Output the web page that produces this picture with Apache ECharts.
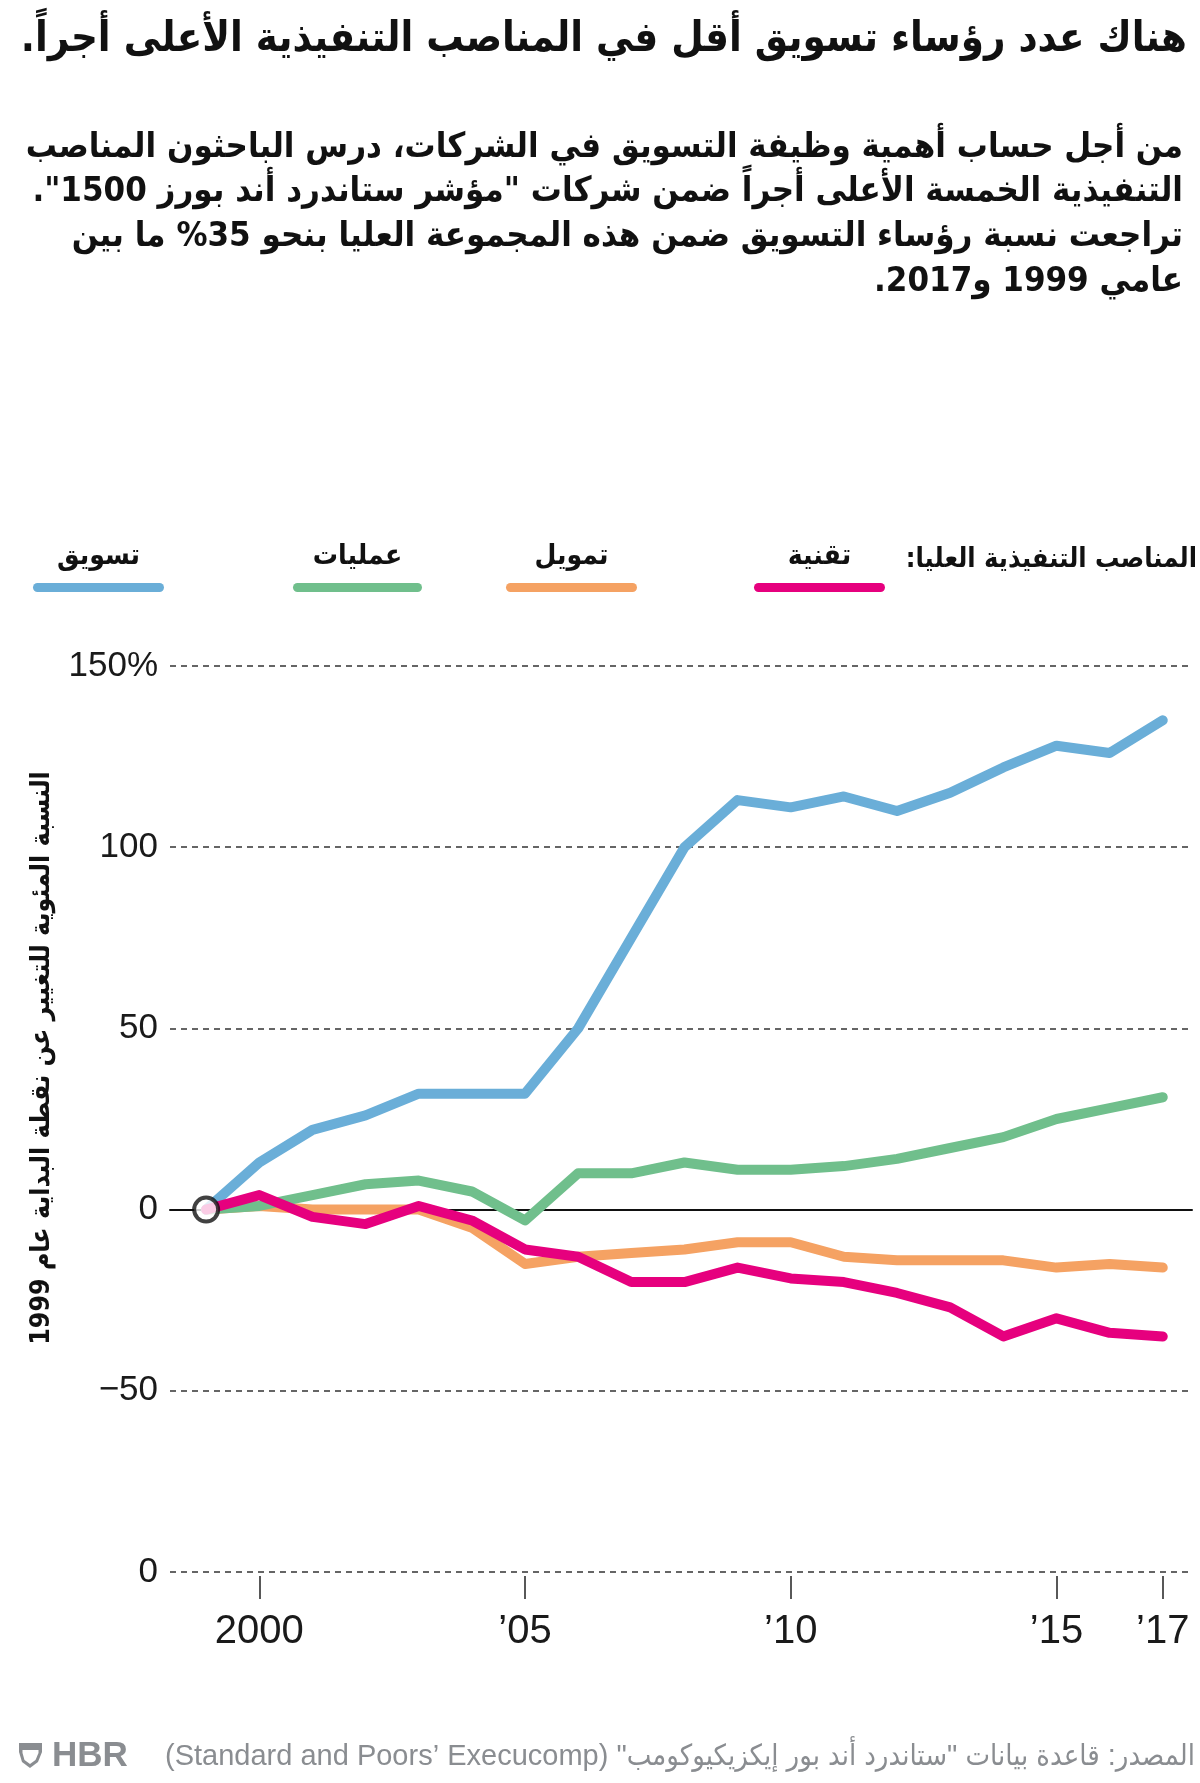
<!DOCTYPE html>
<html>
<head>
<meta charset="utf-8">
<script src="https://cdn.jsdelivr.net/npm/echarts@6/dist/echarts.min.js"></script>
<style>
html,body{margin:0;padding:0;background:#fff;}
#chart{width:1200px;height:1783px;}
</style>
</head>
<body>
<div id="chart"></div>
<script>
// ---- data ----
const years = [1999,2000,2001,2002,2003,2004,2005,2006,2007,2008,2009,2010,2011,2012,2013,2014,2015,2016,2017];
const marketing  = [0,13,22,26,32,32,32,50,75,100,113,111,114,110,115,122,128,126,135];
const operations = [0,1,4,7,8,5,-3,10,10,13,11,11,12,14,17,20,25,28,31];
const finance    = [0,1,0,0,0,-5,-15,-13,-12,-11,-9,-9,-13,-14,-14,-14,-16,-15,-16];
const technology = [0,4,-2,-4,1,-3,-11,-13,-20,-20,-16,-19,-20,-23,-27,-35,-30,-34,-35];

const seriesNames = ['تسويق','عمليات','تمويل','تقنية'];
const xTickValues = [2000,2005,2010,2015,2017];
const xTickLabels = ['2000','\u201905','\u201910','\u201915','\u201917'];
const yTickValues = [-100,-50,0,50,100,150];
const yTickLabels = ['0','\u221250','0','50','100','150%'];

const titleText = 'هناك عدد رؤساء تسويق أقل في المناصب التنفيذية الأعلى أجراً.';
const subtitleLines = [
  'من أجل حساب أهمية وظيفة التسويق في الشركات، درس الباحثون المناصب',
  'التنفيذية الخمسة الأعلى أجراً ضمن شركات "مؤشر ستاندرد أند بورز 1500".',
  'تراجعت نسبة رؤساء التسويق ضمن هذه المجموعة العليا بنحو 35% ما بين',
  'عامي 1999 و2017.'
];
const legendHeader = 'المناصب التنفيذية العليا:';
const yAxisTitle = 'النسبة المئوية للتغيير عن نقطة البداية عام 1999';
const sourceText = 'المصدر: قاعدة بيانات "ستاندرد أند بور إيكزيكيوكومب" (Standard and Poors\u2019 Execucomp)';
const logoText = 'HBR';

// ---- styles ----
const colors = {marketing:'#6aaed8', operations:'#70bf8c', finance:'#f5a263', technology:'#e6007e'};
const AR = "'DejaVu Sans Condensed','DejaVu Sans',sans-serif";
const NUM = "'Liberation Sans Narrow','Arial Narrow','Liberation Sans',sans-serif";
const rtl = s => '\u202B' + s + '\u202C';

const xMin = 1998.32, xMax = 2017.55;

function pairs(vals){ return years.map((y,i)=>[y, vals[i]]); }

const chart = echarts.init(document.getElementById('chart'), null, {renderer:'canvas'});

const graphics = [];
graphics.push({type:'text', x:1187, y:40, style:{text:rtl(titleText), font:"bold 41.5px "+AR, fill:'#111', textAlign:'right', textVerticalAlign:'middle'}});
const subY = [148,192,237,282];
subtitleLines.forEach((t,i)=>{
  graphics.push({type:'text', x:1183, y:subY[i], style:{text:rtl(t), font:"bold 34.5px "+AR, fill:'#111', textAlign:'right', textVerticalAlign:'middle'}});
});
// legend
graphics.push({type:'text', x:1197, y:560, style:{text:rtl(legendHeader), font:"bold 27px "+AR, fill:'#111', textAlign:'right', textVerticalAlign:'middle'}});
const legendItems = [
  {name:seriesNames[3], color:colors.technology, x0:754, x1:885},
  {name:seriesNames[2], color:colors.finance, x0:506, x1:637},
  {name:seriesNames[1], color:colors.operations, x0:293, x1:422},
  {name:seriesNames[0], color:colors.marketing, x0:33, x1:164}
];
legendItems.forEach(it=>{
  graphics.push({type:'text', x:(it.x0+it.x1)/2, y:557, style:{text:rtl(it.name), font:"bold 28px "+AR, fill:'#111', textAlign:'center', textVerticalAlign:'middle'}});
  graphics.push({type:'rect', shape:{x:it.x0, y:583, width:it.x1-it.x0, height:9, r:4.5}, style:{fill:it.color}});
});
// y-axis title
graphics.push({type:'text', x:42, y:1058, rotation:Math.PI/2, style:{text:rtl(yAxisTitle), font:"bold 26.5px "+AR, fill:'#111', textAlign:'center', textVerticalAlign:'middle'}});
// footer
graphics.push({type:'text', x:1195, y:1757, style:{text:rtl(sourceText), font:"29px "+NUM+","+AR, fill:'#8a8d91', textAlign:'right', textVerticalAlign:'middle'}});
graphics.push({type:'text', x:52, y:1756, style:{text:logoText, font:"bold 35px 'Liberation Sans','DejaVu Sans',sans-serif", fill:'#8a8d91', textAlign:'left', textVerticalAlign:'middle'}});
graphics.push({type:'polygon', shape:{points:[[19,1743],[42,1743],[42,1752],[38,1762],[30,1768],[22,1762],[19,1752]]}, style:{fill:'#8a8d91'}});
graphics.push({type:'polygon', shape:{points:[[22.5,1750],[38.5,1750],[38.5,1753],[35.5,1760],[30,1764],[24.5,1760],[22.5,1753]]}, style:{fill:'#fff'}});

const lineBase = {type:'line', showSymbol:false, smooth:false, silent:true, lineStyle:{width:10, cap:'round', join:'round'}};

const option = {
  backgroundColor:'#fff',
  animation:false,
  grid:{left:170, right:8, top:666, bottom:211, containLabel:false},
  xAxis:[
    {type:'value', min:xMin, max:xMax, axisLine:{show:true, onZero:true, lineStyle:{color:'#111', width:2}},
     axisTick:{show:false}, axisLabel:{show:false}, splitLine:{show:false}},
    {type:'value', min:xMin, max:xMax, position:'bottom', offset:4, axisLine:{show:false, onZero:false},
     axisTick:{show:true, customValues:xTickValues, length:23, lineStyle:{color:'#222', width:1.5}},
     axisLabel:{show:true, customValues:xTickValues, margin:36, fontFamily:NUM, fontSize:40, color:'#1a1a1a',
       formatter:v=>{const i=xTickValues.indexOf(Math.round(v)); return i>=0?xTickLabels[i]:'';}},
     splitLine:{show:false}}
  ],
  yAxis:{type:'value', min:-100, max:150, interval:50,
    axisLine:{show:false}, axisTick:{show:false},
    axisLabel:{margin:12, fontFamily:NUM, fontSize:35, color:'#1a1a1a',
      formatter:v=>{const i=yTickValues.indexOf(v); return i>=0?yTickLabels[i]:'';}},
    splitLine:{show:true, lineStyle:{type:[6,5], color:'#333', width:1.5}}},
  series:[
    Object.assign({}, lineBase, {name:seriesNames[2], z:3, data:pairs(finance), lineStyle:Object.assign({}, lineBase.lineStyle, {color:colors.finance})}),
    Object.assign({}, lineBase, {name:seriesNames[1], z:4, data:pairs(operations), lineStyle:Object.assign({}, lineBase.lineStyle, {color:colors.operations})}),
    Object.assign({}, lineBase, {name:seriesNames[0], z:5, data:pairs(marketing), lineStyle:Object.assign({}, lineBase.lineStyle, {color:colors.marketing})}),
    Object.assign({}, lineBase, {name:seriesNames[3], z:6, data:pairs(technology), lineStyle:Object.assign({}, lineBase.lineStyle, {color:colors.technology})}),
    {type:'scatter', z:10, silent:true, symbol:'circle', symbolSize:24, data:[[years[0], marketing[0]]],
     itemStyle:{color:'#fff', borderColor:'#111', borderWidth:4}}
  ],
  graphic:graphics
};
chart.setOption(option);
</script>
</body>
</html>
